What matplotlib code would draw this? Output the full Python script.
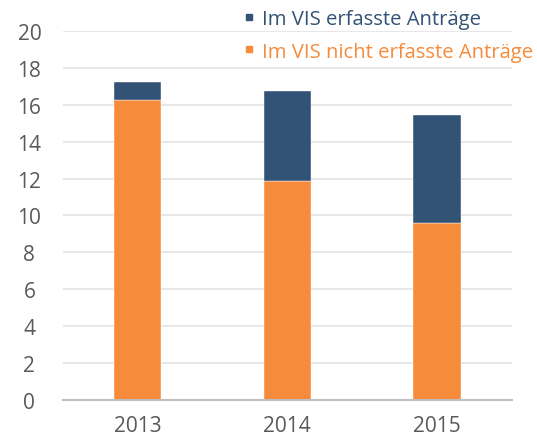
import matplotlib
matplotlib.use("Agg")
import matplotlib.pyplot as plt
from matplotlib.lines import Line2D

years = ["2013", "2014", "2015"]
nicht_erfasst = [16.25, 11.85, 9.6]
erfasst = [1.0, 4.9, 5.85]
labels = ["Im VIS erfasste Anträge", "Im VIS nicht erfasste Anträge"]
yticks = [0, 2, 4, 6, 8, 10, 12, 14, 16, 18, 20]

blue = "#325276"
orange = "#F58B3B"
gray = "#595959"

plt.rcParams['font.family'] = ['Open Sans', 'DejaVu Sans']

fig = plt.figure(figsize=(5.37, 4.39), dpi=100)
ax = fig.add_axes([0.1168, 0.0866, 0.9534 - 0.1168, 0.9271 - 0.0866])

x = range(len(years))
ax.bar(x, nicht_erfasst, width=0.317, color=orange, edgecolor="white", linewidth=0.3, zorder=3)
ax.bar(x, erfasst, bottom=nicht_erfasst, width=0.317, color=blue, edgecolor="white", linewidth=0.3, zorder=3)

ax.set_xlim(-0.5, 2.5)
ax.set_ylim(0, 20)
ax.set_yticks(yticks)
ax.set_yticklabels([str(v) for v in yticks])
ax.set_xticks(list(x))
ax.set_xticklabels(years)
ax.grid(axis="y", color="#E3E3E3", linewidth=1.2, zorder=0)
ax.set_axisbelow(True)
for s in ["top", "right", "left"]:
    ax.spines[s].set_visible(False)
ax.spines["bottom"].set_color("#BFBFBF")
ax.spines["bottom"].set_linewidth(1.5)
ax.spines["bottom"].set_zorder(4)
ax.tick_params(axis="both", length=0, labelsize=15, labelcolor=gray)
ax.tick_params(axis="y", pad=24)
ax.tick_params(axis="x", pad=11)
for lab in ax.get_yticklabels():
    lab.set_horizontalalignment("center")

handles = [Line2D([], [], marker="s", linestyle="none", color=blue, markersize=4),
           Line2D([], [], marker="s", linestyle="none", color=orange, markersize=4)]
leg = fig.legend(handles, labels, loc="upper left", bbox_to_anchor=(244 / 537, 1 - 10 / 439),
                 frameon=False, fontsize=14.6, handlelength=0.5, handletextpad=0.4,
                 labelspacing=0.62, borderaxespad=0, borderpad=0)
for t, c in zip(leg.get_texts(), [blue, orange]):
    t.set_color(c)

fig.savefig("out.png", dpi=100)
